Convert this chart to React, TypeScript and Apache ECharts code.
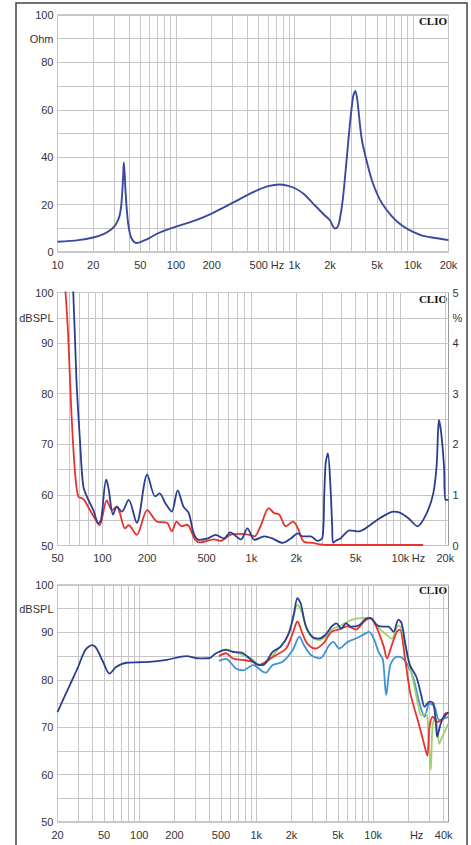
import { useEffect, useRef } from "react";
import * as echarts from "echarts";

// ---------- Panel 1: impedance (Ohm) ----------
const IMP_FREQ = [10, 15, 20, 25, 28, 30, 32, 33.5, 34.5, 35.3, 35.9, 36.3, 36.8, 37.5, 38.3, 39.5, 41, 43, 46, 50, 60, 70, 80, 100, 150, 200, 300, 400, 500, 600, 750, 900, 1000, 1200, 1500, 1800, 2000, 2100, 2200, 2300, 2400, 2560, 2750, 2930, 3130, 3270, 3400, 3680, 4000, 4600, 5500, 7700, 11500, 16000, 20000];
const IMP_OHM = [4.3, 5.0, 6.1, 7.8, 9.3, 10.6, 12.8, 15.5, 19.5, 26, 33, 37.8, 34, 26, 19, 12, 7.5, 5, 3.8, 4.2, 6, 7.8, 9, 10.7, 13.6, 16.2, 20.7, 24, 26.3, 27.8, 28.5, 27.8, 27, 24.5, 19.5, 15.5, 13.3, 11.2, 9.9, 10.3, 13, 22, 38, 53, 65.5, 68, 64, 48.6, 40, 29, 20.5, 12, 7.2, 5.8, 5];

// ---------- Panel 2: distortion ----------
const DIST_RED_FREQ = [55, 56.6, 59, 62, 65.6, 69, 74.5, 82.5, 93, 96, 107, 116, 125, 131, 142, 150, 170, 200, 233, 271, 292, 315, 340, 370, 420, 455, 560, 620, 720, 850, 970, 1050, 1150, 1310, 1420, 1540, 1700, 1900, 2050, 2240, 2600, 2900, 3500, 14200];
const DIST_RED_DB = [104, 100, 91.3, 76.2, 64.3, 59.7, 59.2, 57, 54.4, 54, 58.9, 57, 57.7, 56.4, 53.4, 54, 52.1, 57, 54.7, 54.5, 52.8, 54.7, 53.8, 54.1, 51.1, 50.6, 51.2, 50.9, 52.1, 52.3, 52.1, 51.8, 53.8, 57.4, 56.4, 56.1, 53.8, 54.7, 53.4, 50.8, 50.5, 50.2, 50.1, 50.1];
const DIST_BLUE_FREQ = [62, 63.8, 67, 70.7, 74.5, 80.6, 87, 94, 98, 106, 110, 118, 125, 135, 150, 170, 200, 226, 242, 264, 292, 320, 350, 380, 410, 445, 510, 575, 655, 720, 850, 940, 1050, 1220, 1380, 1620, 1840, 2050, 2210, 2500, 2780, 3000, 3080, 3150, 3260, 3390, 3480, 3530, 3700, 3960, 4570, 5260, 6100, 7000, 8000, 8950, 9900, 11300, 13000, 15000, 16600, 17500, 18100, 18800, 19600, 20000, 21000];
const DIST_BLUE_DB = [104, 100, 82.7, 70.9, 61.7, 59, 57, 54.4, 55, 63, 61.3, 56.1, 57.7, 56.7, 59, 54.5, 64, 59.7, 60.3, 58.4, 56.7, 60.9, 57.7, 56.4, 52.4, 51.1, 51.4, 52.1, 51.4, 52.6, 51.2, 53.4, 51.1, 51.8, 51.4, 50.5, 51.4, 52.4, 51.8, 51.8, 50.9, 51.6, 60, 66.3, 68.2, 61.7, 54, 50.5, 51, 51.4, 53, 52.8, 53.8, 55.1, 56.1, 56.7, 56.5, 55.4, 53.8, 56.4, 60.3, 66, 74.8, 72, 65.6, 59, 59];

// ---------- Panel 3: frequency response ----------
const FR_NAVY_FREQ = [20, 25.5, 30, 34.6, 39.6, 43.1, 49, 55.7, 63.4, 77.5, 100, 122, 171, 252, 327, 400, 453, 550, 630, 695, 770, 880, 1000, 1140, 1380, 1620, 1900, 2100, 2250, 2400, 2640, 3000, 3400, 3870, 4400, 4840, 5330, 5870, 6460, 7580, 8900, 9500, 10800, 12300, 13500, 14900, 16400, 17500, 19000, 20600, 23400, 25700, 27500, 30300, 32700, 34400, 35200, 37800, 41600, 44000];
const FR_NAVY_DB = [73.2, 78.9, 82.7, 86.3, 87.3, 86.6, 83.8, 81.3, 82.7, 83.6, 83.7, 83.8, 84.2, 85, 84.5, 84.6, 85.6, 86.3, 85.9, 85.8, 85.6, 84.5, 83.3, 83.1, 85.9, 87, 89.8, 94, 97.2, 96.1, 91.5, 89.1, 88.7, 89.4, 91.2, 91.9, 90.8, 91.9, 91.2, 91.5, 93, 93, 91.5, 91.2, 91.2, 90.1, 92.7, 91.9, 87, 83.1, 80.6, 76.8, 74.3, 75.4, 75, 70.5, 68, 70.8, 72.9, 73];
const FR_GREEN_FREQ = [480, 550, 630, 770, 940, 1060, 1200, 1470, 1800, 2050, 2250, 2480, 2720, 3100, 3500, 4000, 4550, 5330, 6460, 7830, 9200, 10800, 13100, 14400, 16400, 17500, 19300, 21900, 24100, 25700, 28300, 30000, 31000, 32300, 34400, 36700, 39000, 44000];
const FR_GREEN_DB = [85.7, 86.4, 86, 85.2, 84.2, 83.2, 83.5, 85.9, 88.7, 92.6, 95.8, 94, 90.5, 88.7, 88.4, 89.4, 90.8, 91.5, 92.6, 93, 93, 91.2, 89.4, 88.7, 91.5, 90.8, 85.6, 79.9, 75, 72.5, 72.9, 66, 61, 70.8, 71.8, 66.5, 68, 70.8];
const FR_RED_FREQ = [480, 550, 630, 770, 940, 1060, 1200, 1470, 1800, 2050, 2250, 2480, 2720, 3200, 3750, 4400, 5330, 6050, 7100, 8350, 9500, 10800, 12300, 13100, 14400, 15900, 16900, 18600, 20600, 22700, 24900, 27500, 29000, 30300, 32300, 35500, 44000];
const FR_RED_DB = [85, 85.6, 84.5, 84.2, 83.8, 83.1, 83.8, 85.2, 86.6, 89.8, 92.3, 89.8, 87.7, 86.6, 87.7, 90.1, 90.8, 91.3, 90.6, 92.3, 93, 90.8, 87, 84.5, 87.3, 90.1, 90.6, 84.9, 77.5, 73.6, 70.1, 66, 64, 70.1, 72.2, 71.1, 73.2];
const FR_LBLUE_FREQ = [480, 550, 670, 770, 940, 1140, 1200, 1380, 1680, 2050, 2340, 2560, 2940, 3500, 4200, 4550, 5130, 6050, 7100, 8600, 9200, 10100, 11100, 12100, 12900, 14000, 15900, 17500, 19300, 21900, 24900, 27500, 30300, 33400, 36700, 44000];
const FR_LBLUE_DB = [84, 84.4, 82.4, 82, 83.1, 81.7, 81.5, 83.1, 83.8, 86.3, 89.1, 87.3, 85.2, 84.5, 87.3, 88, 86.6, 88, 88.7, 89.8, 90.1, 88.7, 85.9, 84.2, 76.8, 83.1, 84.9, 84.7, 83.5, 80.6, 75, 72.2, 75, 74.3, 71.5, 72.2];

// ---------- Axis labels ----------
const P1_XLABELS = [10, 20, 50, 100, 200, 500, 1000, 2000, 5000, 10000, 20000];
const P1_HZ = 720;
const P2_XLABELS = [50, 100, 200, 500, 1000, 2000, 5000, 10000, 20000];
const P2_HZ = 13200;
const P3_XLABELS = [20, 50, 100, 200, 500, 1000, 2000, 5000, 10000, 40000];
const P3_HZ = 23500;

function decadeTicks(lo: number, hi: number): number[] {
  const out: number[] = [];
  for (let d = 1; d <= 100000; d *= 10) {
    for (let m = 1; m < 10; m++) {
      const v = m * d;
      if (v >= lo && v <= hi) out.push(v);
    }
  }
  return out;
}

const pair = (fs: number[], vs: number[]) => fs.map((f, i) => [f, vs[i]]);

const fmtHz = (hz: number) => (v: number) => {
  if (Math.abs(v - hz) < 1) return "Hz";
  return v >= 1000 ? v / 1000 + "k" : String(v);
};

const FONT = "Liberation Sans, Arial, sans-serif";
const GRID_COLOR = "#c6c6c6";

function xAxisFor(gridIndex: number, min: number, max: number, labels: number[], hz: number, margin: number) {
  return {
    type: "log",
    gridIndex,
    min,
    max,
    logBase: 10,
    axisLine: { show: false },
    axisTick: { show: false, customValues: decadeTicks(min, max) },
    axisLabel: {
      customValues: [...labels, hz],
      formatter: fmtHz(hz),
      color: "#333",
      fontSize: 11,
      fontFamily: FONT,
      margin,
      showMinLabel: true,
      showMaxLabel: true,
    },
    splitLine: { show: true, lineStyle: { color: GRID_COLOR, width: 1 } },
  };
}

const line = (name: string, data: number[][], color: string, xi: number, yi: number, width = 1.8) => ({
  name,
  type: "line",
  xAxisIndex: xi,
  yAxisIndex: yi,
  data,
  showSymbol: false,
  symbol: "none",
  smooth: 0.3,
  silent: true,
  lineStyle: { color, width },
});

export default function App() {
  const ref = useRef<HTMLDivElement>(null);
  useEffect(() => {
    if (!ref.current) return;
    const chart = echarts.init(ref.current, undefined, { renderer: "svg" });
    const yLab = { color: "#333", fontSize: 11, fontFamily: FONT, margin: 4 };
    const clioFont = "bold 11px 'Liberation Serif', 'Times New Roman', serif";
    const option: any = {
      animation: false,
      backgroundColor: "#fff",
      grid: [
        { left: 57.5, top: 15, width: 391, height: 237, show: true, borderColor: "#999", borderWidth: 1, outerBoundsMode: "none" },
        { left: 57.5, top: 292.5, width: 391, height: 253, show: true, borderColor: "#999", borderWidth: 1, outerBoundsMode: "none" },
        { left: 57.5, top: 585, width: 391, height: 237, show: true, borderColor: "#999", borderWidth: 1, outerBoundsMode: "none" },
      ],
      xAxis: [
        xAxisFor(0, 10, 20000, P1_XLABELS, P1_HZ, 7),
        xAxisFor(1, 50, 21000, P2_XLABELS, P2_HZ, 7),
        xAxisFor(2, 20, 44000, P3_XLABELS, P3_HZ, 7),
      ],
      yAxis: [
        {
          type: "value", gridIndex: 0, min: 0, max: 100, interval: 10,
          axisLine: { show: false }, axisTick: { show: false },
          axisLabel: { ...yLab, formatter: (v: number) => (v % 20 === 0 ? String(v) : v === 90 ? "Ohm" : "") },
          splitLine: { lineStyle: { color: GRID_COLOR } },
        },
        {
          type: "value", gridIndex: 1, min: 50, max: 100, interval: 5,
          axisLine: { show: false }, axisTick: { show: false },
          axisLabel: { ...yLab, formatter: (v: number) => (v % 10 === 0 ? String(v) : v === 95 ? "dBSPL" : "") },
          splitLine: { lineStyle: { color: GRID_COLOR } },
        },
        {
          type: "value", gridIndex: 1, position: "right", min: 0, max: 5, interval: 0.5,
          axisLine: { show: false }, axisTick: { show: false },
          axisLabel: { ...yLab, formatter: (v: number) => (Math.abs(v - Math.round(v)) < 1e-6 ? String(Math.round(v)) : Math.abs(v - 4.5) < 1e-6 ? "%" : "") },
          splitLine: { show: false },
        },
        {
          type: "value", gridIndex: 2, min: 50, max: 100, interval: 5,
          axisLine: { show: false }, axisTick: { show: false },
          axisLabel: { ...yLab, formatter: (v: number) => (v % 10 === 0 ? String(v) : v === 95 ? "dBSPL" : "") },
          splitLine: { lineStyle: { color: GRID_COLOR } },
        },
      ],
      series: [
        line("Impedance", pair(IMP_FREQ, IMP_OHM), "#3b4a9e", 0, 0, 1.9),
        line("Distortion red", pair(DIST_RED_FREQ, DIST_RED_DB), "#e8322c", 1, 1),
        line("Distortion blue", pair(DIST_BLUE_FREQ, DIST_BLUE_DB), "#2c3d8f", 1, 1),
        line("45°", pair(FR_LBLUE_FREQ, FR_LBLUE_DB), "#3f93d2", 2, 3),
        line("15°", pair(FR_GREEN_FREQ, FR_GREEN_DB), "#9fd06c", 2, 3),
        line("30°", pair(FR_RED_FREQ, FR_RED_DB), "#e8322c", 2, 3),
        line("0°", pair(FR_NAVY_FREQ, FR_NAVY_DB), "#2a3f8f", 2, 3),
      ],
      graphic: [
        { type: "polyline", silent: true, shape: { points: [[16, 850], [16, 3], [467, 3], [467, 850]] }, style: { stroke: "#444", lineWidth: 1.5, fill: "none" } },
        { type: "text", silent: true, x: 447, y: 21, style: { text: "CLIO", align: "right", verticalAlign: "middle", font: clioFont, fill: "#111" } },
        { type: "text", silent: true, x: 447, y: 298.5, style: { text: "CLIO", align: "right", verticalAlign: "middle", font: clioFont, fill: "#111" } },
        { type: "text", silent: true, x: 447, y: 590, style: { text: "CLIO", align: "right", verticalAlign: "middle", font: clioFont, fill: "#111" } },
      ],
    };
    chart.setOption(option);
    return () => chart.dispose();
  }, []);
  return <div ref={ref} style={{ position: "absolute", left: 0, top: 0, width: 471, height: 845, background: "#fff" }} />;
}
